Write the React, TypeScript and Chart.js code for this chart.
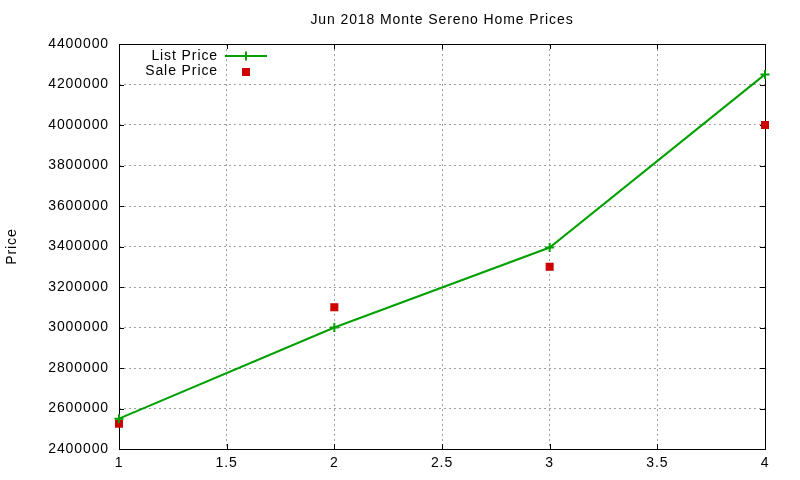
import React, { useEffect, useRef } from "react";
import { Chart, registerables } from "chart.js";

Chart.register(...registerables);

const months = [1, 2, 3, 4];
const listPrice = [2550000, 3000000, 3395000, 4250000];
const salePrice = [2525000, 3100000, 3300000, 4000000];

const GREEN = "#00a000";
const RED = "#cc0000";
const FONT = "'Liberation Sans', Arial, sans-serif";
const SPACING = "0.9px";

// the reference text is set a bit wider than plain Arial
const spacingPlugin = {
  id: "spacing",
  beforeLayout(chart: any) {
    chart.ctx.letterSpacing = SPACING;
  },
  beforeDraw(chart: any) {
    chart.ctx.letterSpacing = SPACING;
  },
};

// gnuplot-ish frame with inward ticks + legend in upper left
const framePlugin = {
  id: "frame",
  beforeDatasetsDraw(chart: any) {
    const { ctx, chartArea: a, scales } = chart;
    ctx.save();
    ctx.strokeStyle = "#000";
    ctx.lineWidth = 1;
    ctx.strokeRect(a.left + 0.5, a.top + 0.5, a.right - a.left, a.bottom - a.top);
    const tick = 5;
    ctx.beginPath();
    scales.y.ticks.forEach((t: any) => {
      const y = Math.round(scales.y.getPixelForValue(t.value)) + 0.5;
      ctx.moveTo(a.left, y);
      ctx.lineTo(a.left + tick, y);
      ctx.moveTo(a.right, y);
      ctx.lineTo(a.right - tick, y);
    });
    scales.x.ticks.forEach((t: any) => {
      const x = Math.round(scales.x.getPixelForValue(t.value)) + 0.5;
      ctx.moveTo(x, a.bottom);
      ctx.lineTo(x, a.bottom - tick);
      ctx.moveTo(x, a.top);
      ctx.lineTo(x, a.top + tick);
    });
    ctx.stroke();
    ctx.restore();
  },
  afterDraw(chart: any) {
    const { ctx } = chart;
    const labels = ["List Price", "Sale Price"];
    ctx.save();
    ctx.letterSpacing = SPACING;
    ctx.font = `14px ${FONT}`;
    ctx.fillStyle = "#000";
    ctx.textAlign = "right";
    ctx.textBaseline = "middle";
    ctx.fillText(labels[0], 218, 56);
    ctx.fillText(labels[1], 218, 71);
    ctx.strokeStyle = GREEN;
    ctx.lineWidth = 2;
    ctx.beginPath();
    ctx.moveTo(225, 56);
    ctx.lineTo(267, 56);
    ctx.moveTo(246, 51.5);
    ctx.lineTo(246, 60.5);
    ctx.stroke();
    ctx.fillStyle = RED;
    ctx.fillRect(242, 68, 8, 8);
    ctx.restore();
  },
};

export default function App() {
  const canvasRef = useRef<HTMLCanvasElement | null>(null);
  const chartRef = useRef<Chart | null>(null);

  useEffect(() => {
    const ctx = canvasRef.current?.getContext("2d");
    if (!ctx) return;
    if (chartRef.current) chartRef.current.destroy();

    Chart.defaults.font.family = FONT;
    Chart.defaults.color = "#000";

    chartRef.current = new Chart(ctx, {
      type: "line",
      data: {
        datasets: [
          {
            label: "List Price",
            data: months.map((m, i) => ({ x: m, y: listPrice[i] })),
            borderColor: GREEN,
            backgroundColor: GREEN,
            borderWidth: 2,
            pointStyle: "cross",
            pointRadius: 4.5,
            pointBorderWidth: 2,
            tension: 0,
            clip: false,
          },
          {
            label: "Sale Price",
            data: months.map((m, i) => ({ x: m, y: salePrice[i] })),
            showLine: false,
            borderColor: RED,
            backgroundColor: RED,
            pointStyle: "rect",
            pointRadius: 5.7,
            pointBorderWidth: 0,
            clip: false,
          },
        ],
      },
      options: {
        responsive: false,
        animation: false,
        layout: { padding: { right: 35, left: 0, top: 0, bottom: 0 } },
        plugins: {
          legend: { display: false },
          tooltip: { enabled: false },
          title: {
            display: true,
            text: "Jun 2018 Monte Sereno Home Prices",
            fullSize: false,
            font: { size: 14, weight: "normal" },
            color: "#000",
            padding: { top: 12, bottom: 15.2 },
          },
        },
        scales: {
          x: {
            type: "linear",
            min: 1,
            max: 4,
            ticks: {
              stepSize: 0.5,
              font: { size: 14 },
              padding: 6,
              color: "#000",
              callback: (v: any) => String(v),
            },
            grid: { color: "#a0a0a0", drawTicks: false, lineWidth: 1 },
            border: { display: false, dash: [2, 3] },
            afterFit: (s: any) => {
              s.height = 31;
            },
          },
          y: {
            min: 2400000,
            max: 4400000,
            ticks: {
              stepSize: 200000,
              font: { size: 14 },
              padding: 10,
              color: "#000",
              callback: (v: any) => String(v),
            },
            grid: { color: "#a0a0a0", drawTicks: false, lineWidth: 1 },
            border: { display: false, dash: [2, 3] },
            title: {
              display: true,
              text: "Price",
              font: { size: 14 },
              color: "#000",
            },
            afterFit: (s: any) => {
              s.width = 119;
            },
          },
        },
      },
      plugins: [spacingPlugin, framePlugin],
    });

    return () => {
      if (chartRef.current) {
        chartRef.current.destroy();
        chartRef.current = null;
      }
    };
  }, []);

  return (
    <div style={{ position: "fixed", left: 0, top: 0, width: 800, height: 480, background: "#fff" }}>
      <canvas ref={canvasRef} width={800} height={480} />
    </div>
  );
}
